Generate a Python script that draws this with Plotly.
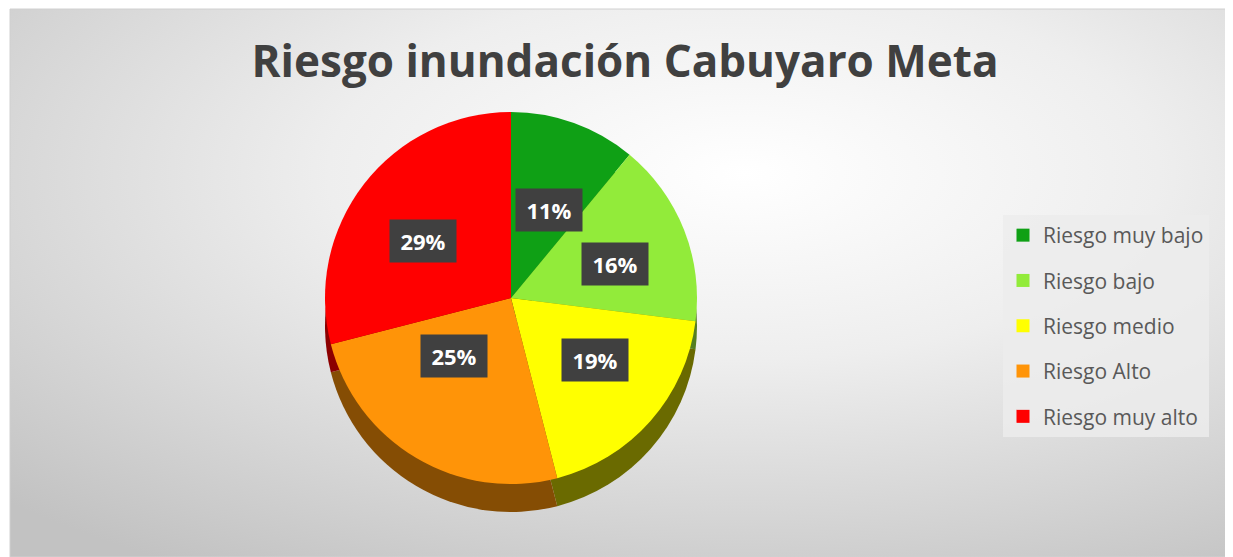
import base64
import numpy as np
import plotly.graph_objects as go


# the page adds an 8px body margin, so the figure is a bit smaller
OFF = 8
W, H = 1233 - OFF, 557 - OFF

labels = ['Riesgo muy bajo', 'Riesgo bajo', 'Riesgo medio', 'Riesgo Alto', 'Riesgo muy alto']
values = [11, 16, 19, 25, 29]

top_colors = ['#0FA015', '#92EB3A', '#FFFF00', '#FF9408', '#FF0000']
side_colors = ['#0A5E0D', '#557F22', '#6A6A00', '#854D04', '#8C0000']

# pie geometry in page pixels (style)
CX, CY, R = 511, 298, 186
DEPTH = 28


def fx(px):
    return (px - OFF) / W


def fy(py):
    return 1 - (py - OFF) / H


def px_domain(cx, cy, r):
    return {'x': [fx(cx - r), fx(cx + r)], 'y': [fy(cy + r), fy(cy - r)]}


def bg_image():
    svg = (
        '<svg xmlns="http://www.w3.org/2000/svg" width="1223" height="548">'
        '<defs><radialGradient id="g" cx="0.6" cy="0.3" r="0.85">'
        '<stop offset="0" stop-color="#ffffff"/>'
        '<stop offset="0.4" stop-color="#eeeeee"/>'
        '<stop offset="1" stop-color="#c2c2c2"/>'
        '</radialGradient></defs>'
        '<rect width="100%" height="100%" fill="url(#g)"/></svg>'
    )
    return 'data:image/svg+xml;base64,' + base64.b64encode(svg.encode()).decode()


fig = go.Figure()

# darker copy underneath gives the 3D side wall
fig.add_trace(
    go.Pie(
        labels=labels, values=values, sort=False,
        direction='clockwise', rotation=0,
        marker={'colors': side_colors, 'line': {'width': 0}},
        textinfo='none', hoverinfo='skip', showlegend=False,
        domain=px_domain(CX, CY + DEPTH, R),
    )
)

fig.add_trace(
    go.Pie(
        labels=labels, values=values, sort=False,
        direction='clockwise', rotation=0,
        marker={'colors': top_colors, 'line': {'width': 0}},
        textinfo='none', showlegend=False,
        domain=px_domain(CX, CY, R),
    )
)

# legend entries (spaced like the original)
for lab, col in zip(labels, top_colors):
    fig.add_trace(
        go.Scatter(
            x=[None], y=[None], mode='markers', name=lab, legendgroup=lab,
            marker={'symbol': 'square', 'size': 13, 'color': col},
        )
    )

# percentage boxes placed at the middle angle of each slice
vals = np.array(values, dtype=float)
theta = (np.cumsum(vals) - vals / 2) / vals.sum() * 2 * np.pi
annotations = []
for v, t in zip(values, theta):
    px = CX + 0.6 * R * np.sin(t)
    py = CY - 0.5 * R * np.cos(t)
    annotations.append(dict(
        x=fx(px), y=fy(py), xref='paper', yref='paper',
        text=f'<b>{v}%</b>', showarrow=False,
        font={'family': 'Open Sans', 'size': 22, 'color': 'white'},
        bgcolor='#404040', width=52, height=28, borderpad=7,
    ))

fig.update_layout(
    width=W,
    height=H,
    margin={'l': 0, 'r': 0, 't': 0, 'b': 0},
    paper_bgcolor='white',
    plot_bgcolor='rgba(0,0,0,0)',
    xaxis={'visible': False},
    yaxis={'visible': False},
    title={
        'text': '<b>Riesgo inundación Cabuyaro Meta</b>',
        'x': fx(625), 'xanchor': 'center',
        'y': fy(62), 'yanchor': 'middle',
        'font': {'family': 'Open Sans', 'size': 44, 'color': '#404040'},
    },
    legend={
        'x': fx(1003), 'xanchor': 'left',
        'y': fy(215), 'yanchor': 'top',
        'bgcolor': 'rgba(236,236,236,0.85)',
        'font': {'family': 'Open Sans', 'size': 21, 'color': '#595959'},
        'itemwidth': 30,
        'tracegroupgap': 15,
    },
    images=[dict(
        source=bg_image(), xref='paper', yref='paper',
        x=fx(10), y=fy(9), sizex=1 - fx(10), sizey=fy(9),
        xanchor='left', yanchor='top', sizing='stretch', layer='below',
    )],
    shapes=[dict(
        type='rect', xref='paper', yref='paper',
        x0=fx(10), x1=1, y0=0, y1=fy(9),
        line={'color': '#d0d0d0', 'width': 1}, layer='below',
    )],
    annotations=annotations,
)

fig.write_html('out.html')
